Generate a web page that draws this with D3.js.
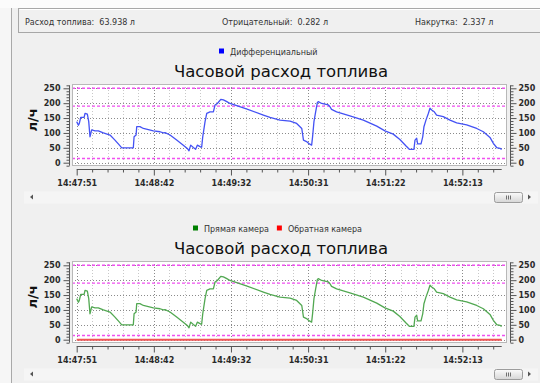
<!DOCTYPE html>
<html><head><meta charset="utf-8">
<script src="https://cdn.jsdelivr.net/npm/d3@7"></script>
<style>
html,body{margin:0;padding:0;background:#f0f0f0;}
svg{display:block;font-family:"DejaVu Sans",Verdana,sans-serif;}
</style></head><body>
<svg id="chart" width="540" height="383"></svg>
<script>
// Summary strip
const summaryLabels = ["Расход топлива:", "Отрицательный:", "Накрутка:"];
const summaryValues = ["63.938 л", "0.282 л", "2.337 л"];

// Shared axis setup
const chartTitle = "Часовой расход топлива";
const yAxisLabel = "л/ч";
const timeTickIdx = [0, 50, 100, 150, 200, 250];
const timeTickLabels = ["14:47:51", "14:48:42", "14:49:32", "14:50:31", "14:51:22", "14:52:13"];
const yTicks = [0, 50, 100, 150, 200, 250];
const limitLines = [250, 190, 14];

// Sample positions (sample index along the time axis)
const sampleIdx = [0, 1.1, 1.7, 2.6, 4.8, 5.4, 6.9, 7.8, 8.6, 9.7, 11.9, 14, 17.3, 21.6, 24.8, 27.7, 29.2, 36.7, 37.2, 38.5,
  38.9, 41, 43.2, 49.7, 54, 56.2, 57.3, 60.5, 64.8, 69.1, 71.7, 72.8, 73.9, 75.6, 77.1, 78.2, 80, 81, 81.7, 83.2,
  84.3, 86.4, 88.6, 89.7, 91.2, 93.4, 95.1, 97.3, 99.4, 110, 121, 125.3, 131.8, 138.3, 142.6, 145.9, 147, 149, 150.8, 152.3,
  152.9, 153.8, 154.9, 156, 156.6, 158.8, 163.1, 164.2, 165.2, 168.5, 177.1, 185.8, 194.5, 199.8, 205.2, 209.5, 213.5, 215.6, 218.6, 219.3,
  220.4, 221, 223.2, 224.3, 225.1, 226.4, 228, 229, 230.1, 231.8, 233.3, 237.6, 242, 246.3, 252.8, 259.3, 263.6, 267.9, 270.1, 272.2,
  274.4, 275.5];

// Differential flow, л/ч
const diffValues = [138, 126, 132, 152, 152, 166, 163, 138, 87, 110, 107, 107, 100, 93, 76, 59, 50, 50, 87, 93,
  121, 121, 115, 107, 104, 100, 101, 93, 76, 59, 48, 40, 59, 51, 45, 59, 54, 52, 87, 138,
  166, 171, 171, 194, 199, 213, 211, 205, 199, 181, 160, 152, 143, 140, 132, 115, 76, 71, 63, 59,
  87, 138, 171, 202, 205, 199, 194, 188, 179, 171, 157, 143, 123, 107, 96, 78, 56, 45, 45, 76,
  82, 63, 63, 87, 121, 143, 166, 183, 177, 171, 160, 155, 143, 134, 127, 115, 104, 85, 65, 51,
  48, 45];

// Forward chamber flow, л/ч
const forwardValues = [138, 126, 132, 152, 152, 166, 163, 138, 87, 110, 107, 107, 100, 93, 76, 59, 50, 50, 87, 93,
  121, 121, 115, 107, 104, 100, 101, 93, 76, 59, 48, 40, 59, 51, 45, 59, 54, 52, 87, 138,
  166, 171, 171, 194, 199, 213, 211, 205, 199, 181, 160, 152, 143, 140, 132, 115, 76, 71, 63, 59,
  87, 138, 171, 202, 205, 199, 194, 188, 179, 171, 157, 143, 123, 107, 96, 78, 56, 45, 45, 76,
  82, 63, 63, 87, 121, 143, 166, 183, 177, 171, 160, 155, 143, 134, 127, 115, 104, 85, 65, 51,
  48, 45];

// Return chamber flow, л/ч
const reverseIdx = [0, 275.5];
const reverseValues = [0, 0];

const svg = d3.select("#chart");

// left frame line
svg.append("rect").attr("x", 0).attr("y", 0).attr("width", 11).attr("height", 383).attr("fill", "#f6f6f6");
svg.append("line").attr("x1", 11.5).attr("x2", 11.5).attr("y1", 0).attr("y2", 383).attr("stroke", "#a9a9a9");

// summary box
svg.append("rect").attr("x", 0).attr("y", 0).attr("width", 540).attr("height", 8).attr("fill", "#fbfbfb");
svg.append("rect").attr("x", 18.5).attr("y", 8.5).attr("width", 530).attr("height", 24)
  .attr("fill", "#f0f0f0").attr("stroke", "#a7a7a7");
svg.append("line").attr("x1", 19.5).attr("x2", 540).attr("y1", 9.5).attr("y2", 9.5).attr("stroke", "#ffffff");
const summaryX = [25, 222, 415];
summaryLabels.forEach((lab, i) => {
  svg.append("text").attr("x", summaryX[i]).attr("y", 24.5)
    .attr("font-size", 8).attr("fill", "#333")
    .attr("xml:space", "preserve")
    .text(lab + "  " + summaryValues[i]);
});

const x = d3.scaleLinear().domain([0, 275.5]).range([76.7, 501.7]);
const plotLeft = 72, plotRight = 507;

function drawPanel(top, legend, series) {
  const g = svg.append("g").attr("transform", `translate(0,${top})`);
  const y = d3.scaleLinear().domain([0, 250]).range([162.7, 88.3]);
  const plotTop = 84, plotBottom = 166;

  // legend
  let lx = legend.x;
  legend.items.forEach(it => {
    g.append("rect").attr("x", lx).attr("y", 48.5).attr("width", 5).attr("height", 5).attr("fill", it.color);
    const t = g.append("text").attr("x", lx + 11).attr("y", 54.5).attr("font-size", 8).attr("fill", "#333").text(it.name);
    lx += 11 + t.node().getComputedTextLength() + 8;
  });

  // title
  g.append("text").attr("x", 281).attr("y", 77).attr("text-anchor", "middle")
    .attr("font-size", 16.5).attr("fill", "#111").text(chartTitle);

  // plot background
  g.append("rect").attr("x", plotLeft).attr("y", plotTop).attr("width", plotRight - plotLeft)
    .attr("height", plotBottom - plotTop).attr("fill", "#ffffff");

  // vertical grid: minor and major
  const minorX = d3.range(0, 276, 10).filter(v => v % 50 !== 0);
  g.selectAll(".vmin").data(minorX).join("line")
    .attr("x1", d => Math.round(x(d)) + 0.5).attr("x2", d => Math.round(x(d)) + 0.5)
    .attr("y1", plotTop).attr("y2", plotBottom)
    .attr("stroke", "#c8c8c8").attr("stroke-dasharray", "1,2");
  g.selectAll(".vmaj").data(timeTickIdx).join("line")
    .attr("x1", d => Math.round(x(d)) + 0.5).attr("x2", d => Math.round(x(d)) + 0.5)
    .attr("y1", plotTop).attr("y2", plotBottom)
    .attr("stroke", "#8a8a8a").attr("stroke-dasharray", "1,2");
  // horizontal grid
  g.selectAll(".hmaj").data(yTicks).join("line")
    .attr("x1", plotLeft).attr("x2", plotRight)
    .attr("y1", d => Math.round(y(d)) + 0.5).attr("y2", d => Math.round(y(d)) + 0.5)
    .attr("stroke", "#8a8a8a").attr("stroke-dasharray", "1,2");

  // limit lines
  g.selectAll(".lim").data(limitLines).join("line")
    .attr("x1", plotLeft).attr("x2", plotRight)
    .attr("y1", d => y(d)).attr("y2", d => y(d))
    .attr("stroke", "#f050f0").attr("stroke-width", 1.4).attr("stroke-dasharray", "3,2");

  // series
  series.forEach(s => {
    const pts = s.idx.map((v, i) => [v, s.values[i]]);
    g.append("path").datum(pts)
      .attr("d", d3.line().x(d => x(d[0])).y(d => y(d[1])))
      .attr("fill", "none").attr("stroke", s.color).attr("stroke-width", s.width || 1.3)
      .attr("stroke-linejoin", "round");
  });

  // plot border
  g.append("rect").attr("x", plotLeft + 0.5).attr("y", plotTop + 0.5)
    .attr("width", plotRight - plotLeft - 1).attr("height", plotBottom - plotTop - 1)
    .attr("fill", "none").attr("stroke", "#b8b8b8");

  const axisColor = "#555";
  function styleAxis(sel) {
    sel.select(".domain").remove();
    sel.selectAll("line").attr("stroke", axisColor);
    sel.selectAll("text").attr("fill", "#2a2a2a").attr("font-size", 8).attr("font-weight", "bold")
      .attr("font-family", "DejaVu Sans, Verdana, sans-serif");
  }
  const minorY = d3.range(-10, 261, 10).filter(v => v % 50 !== 0);

  // left axis
  const la = g.append("g").attr("transform", "translate(69.5,0)");
  la.call(d3.axisLeft(y).tickValues(minorY).tickSize(3).tickFormat(""));
  styleAxis(la);
  const lb = g.append("g").attr("transform", "translate(69.5,0)");
  lb.call(d3.axisLeft(y).tickValues(yTicks).tickSize(6).tickPadding(3));
  styleAxis(lb);
  g.append("line").attr("x1", 69.5).attr("x2", 69.5).attr("y1", y(-10)).attr("y2", y(260)).attr("stroke", axisColor);

  // right axis
  const ra = g.append("g").attr("transform", "translate(510.5,0)");
  ra.call(d3.axisRight(y).tickValues(minorY).tickSize(3).tickFormat(""));
  styleAxis(ra);
  const rb = g.append("g").attr("transform", "translate(510.5,0)");
  rb.call(d3.axisRight(y).tickValues(yTicks).tickSize(6).tickPadding(2));
  styleAxis(rb);
  g.append("line").attr("x1", 510.5).attr("x2", 510.5).attr("y1", y(-10)).attr("y2", y(260)).attr("stroke", axisColor);

  // bottom axis
  const ba = g.append("g").attr("transform", "translate(0,169.5)");
  ba.call(d3.axisBottom(x).tickValues(d3.range(0, 276, 10).filter(v => v % 50 !== 0)).tickSize(3).tickFormat(""));
  styleAxis(ba);
  const bb = g.append("g").attr("transform", "translate(0,169.5)");
  bb.call(d3.axisBottom(x).tickValues(timeTickIdx).tickSize(6).tickPadding(5)
    .tickFormat((d, i) => timeTickLabels[i]));
  styleAxis(bb);
  g.append("line").attr("x1", x(0)).attr("x2", x(275.5)).attr("y1", 169.5).attr("y2", 169.5).attr("stroke", axisColor);

  // y label
  g.append("text").attr("transform", "translate(37,120) rotate(-90)").attr("text-anchor", "middle")
    .attr("font-size", 13).attr("font-weight", "bold").attr("fill", "#111").text(yAxisLabel);

  // scrollbar
  g.append("rect").attr("x", 24).attr("y", 191.5).attr("width", 514).attr("height", 12).attr("fill", "#f5f5f5");
  g.append("path").attr("d", "M33,194.5 L30,197 L33,199.5 Z").attr("fill", "#555");
  g.append("path").attr("d", "M528,194.5 L531,197 L528,199.5 Z").attr("fill", "#555");
  const grad = svg.select("defs").empty() ? svg.append("defs") : svg.select("defs");
  if (grad.select("#thumb").empty()) {
    const lg = grad.append("linearGradient").attr("id", "thumb").attr("x1", 0).attr("x2", 0).attr("y1", 0).attr("y2", 1);
    lg.append("stop").attr("offset", 0).attr("stop-color", "#fbfbfb");
    lg.append("stop").attr("offset", 1).attr("stop-color", "#d6d6d6");
  }
  g.append("rect").attr("x", 494.5).attr("y", 192.5).attr("width", 28).attr("height", 10).attr("rx", 2)
    .attr("fill", "url(#thumb)").attr("stroke", "#9c9c9c");
  [506, 508, 510].forEach(gx => g.append("line").attr("x1", gx + 0.5).attr("x2", gx + 0.5)
    .attr("y1", 195.5).attr("y2", 199.5).attr("stroke", "#707070"));
}

drawPanel(0, { x: 219, items: [{ name: "Дифференциальный", color: "#0000ff" }] },
  [{ idx: sampleIdx, values: diffValues, color: "#4452f4" }]);

drawPanel(177, { x: 193, items: [{ name: "Прямая камера", color: "#008000" }, { name: "Обратная камера", color: "#ff0000" }] },
  [{ idx: reverseIdx, values: reverseValues, color: "#f05555", width: 2 },
   { idx: sampleIdx, values: forwardValues, color: "#52a852" }]);
</script>
</body></html>
